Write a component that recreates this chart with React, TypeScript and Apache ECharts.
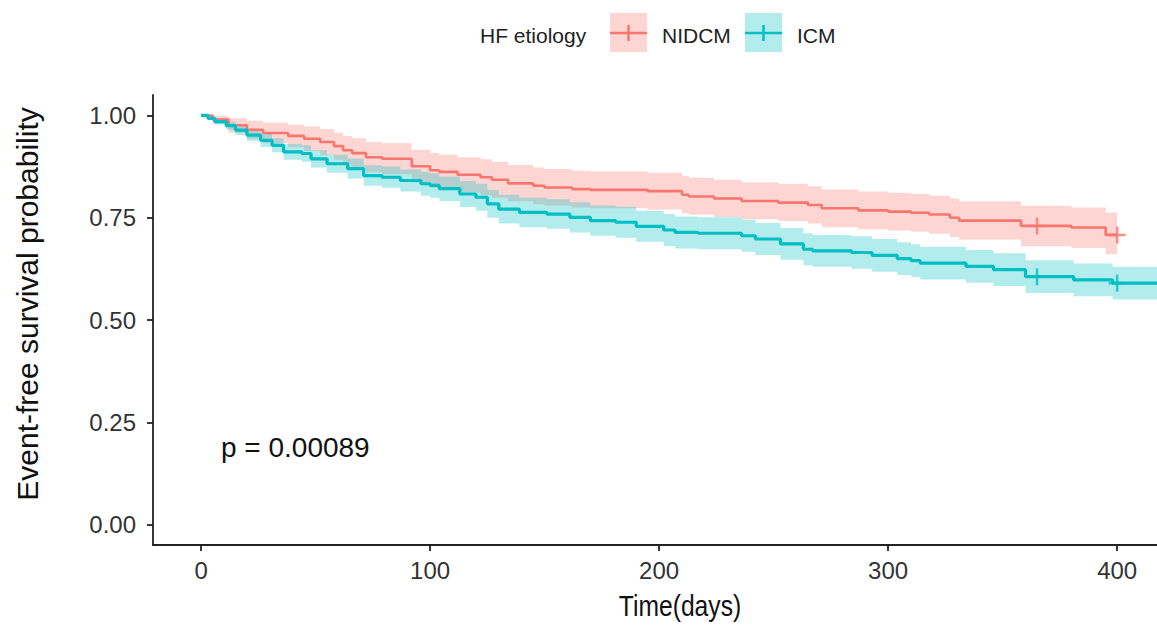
import React, { useEffect, useRef } from "react";
import * as echarts from "echarts";

const RED = "#F8766D";
const TEAL = "#00BFC4";
const RED_BAND = "rgba(248,118,109,0.3)";
const TEAL_BAND = "rgba(0,191,196,0.3)";
const FONT = "'Liberation Sans', Arial, Helvetica, sans-serif";

const xTicks = [0, 100, 200, 300, 400];
const yTicks = [0, 0.25, 0.5, 0.75, 1];

// NIDCM (red)
const nidcmTime = [0, 5, 12, 20, 27, 38, 45, 52, 58, 62, 66, 72, 79, 92, 100, 104, 112, 122, 127, 134, 145, 150, 162, 170, 195, 210, 213, 224, 236, 252, 265, 271, 287, 300, 310, 318, 327, 331, 358, 380, 395, 400];
const nidcmSurv = [1.0, 0.99, 0.976, 0.965, 0.957, 0.95, 0.943, 0.935, 0.925, 0.915, 0.908, 0.898, 0.894, 0.876, 0.866, 0.862, 0.855, 0.849, 0.843, 0.834, 0.828, 0.824, 0.82, 0.818, 0.815, 0.806, 0.802, 0.797, 0.791, 0.787, 0.781, 0.773, 0.768, 0.765, 0.762, 0.758, 0.75, 0.743, 0.73, 0.726, 0.708, 0.708];
const nidcmUpper = [1.0, 0.999, 0.993, 0.987, 0.982, 0.978, 0.973, 0.967, 0.958, 0.95, 0.944, 0.935, 0.932, 0.916, 0.908, 0.904, 0.898, 0.893, 0.887, 0.879, 0.873, 0.869, 0.865, 0.863, 0.86, 0.852, 0.848, 0.843, 0.837, 0.833, 0.827, 0.819, 0.814, 0.811, 0.808, 0.804, 0.797, 0.79, 0.779, 0.775, 0.763, 0.763];
const nidcmLower = [1.0, 0.98, 0.958, 0.943, 0.932, 0.922, 0.913, 0.903, 0.892, 0.88, 0.872, 0.861, 0.856, 0.836, 0.824, 0.82, 0.812, 0.805, 0.799, 0.79, 0.783, 0.779, 0.775, 0.773, 0.77, 0.761, 0.757, 0.752, 0.746, 0.742, 0.736, 0.727, 0.722, 0.719, 0.716, 0.711, 0.703, 0.696, 0.68, 0.676, 0.661, 0.661];
const nidcmCensorTime = [365, 400];
const nidcmCensorSurv = [0.73, 0.708];

// ICM (teal)
const icmTime = [0, 3, 6, 11, 15, 20, 26, 31, 36, 44, 48, 55, 64, 71, 79, 87, 96, 100, 104, 113, 120, 125, 130, 139, 151, 161, 170, 181, 190, 202, 207, 217, 236, 242, 253, 263, 267, 284, 293, 304, 310, 314, 334, 346, 360, 381, 398, 430];
const icmSurv = [1.0, 0.993, 0.985, 0.975, 0.964, 0.952, 0.939, 0.927, 0.911, 0.907, 0.894, 0.882, 0.87, 0.853, 0.849, 0.841, 0.833, 0.829, 0.821, 0.808, 0.8, 0.784, 0.771, 0.763, 0.759, 0.751, 0.743, 0.739, 0.729, 0.72, 0.714, 0.712, 0.706, 0.698, 0.686, 0.673, 0.669, 0.665, 0.658, 0.65, 0.645, 0.639, 0.631, 0.623, 0.606, 0.598, 0.59, 0.59];
const icmUpper = [1.0, 0.997, 0.992, 0.985, 0.976, 0.966, 0.955, 0.944, 0.93, 0.927, 0.915, 0.904, 0.894, 0.878, 0.875, 0.868, 0.862, 0.859, 0.851, 0.84, 0.833, 0.818, 0.806, 0.799, 0.795, 0.788, 0.78, 0.777, 0.767, 0.759, 0.753, 0.751, 0.745, 0.737, 0.725, 0.712, 0.708, 0.705, 0.698, 0.69, 0.685, 0.679, 0.671, 0.663, 0.646, 0.638, 0.63, 0.63];
const icmLower = [1.0, 0.988, 0.978, 0.965, 0.952, 0.938, 0.923, 0.91, 0.892, 0.887, 0.873, 0.86, 0.846, 0.828, 0.823, 0.814, 0.804, 0.799, 0.791, 0.776, 0.767, 0.75, 0.736, 0.727, 0.723, 0.714, 0.706, 0.701, 0.691, 0.681, 0.675, 0.673, 0.667, 0.659, 0.647, 0.634, 0.63, 0.625, 0.618, 0.61, 0.605, 0.599, 0.591, 0.583, 0.566, 0.558, 0.55, 0.55];
const icmCensorTime = [365, 400];
const icmCensorSurv = [0.606, 0.59];

const PLUS = "path://M0,6.8H16V9.2H0Z M6.8,0H9.2V16H6.8Z";

function bandSeries(name: string, time: number[], lower: number[], upper: number[], color: string) {
  return {
    name: name + " CI",
    type: "custom",
    silent: true,
    clip: true,
    data: [[time[0], upper[0]]],
    renderItem: (_params: any, api: any) => {
      const top: number[][] = [];
      const bottom: number[][] = [];
      for (let i = 0; i < time.length; i++) {
        const next = i + 1 < time.length ? time[i + 1] : time[i];
        top.push(api.coord([time[i], upper[i]]));
        top.push(api.coord([next, upper[i]]));
        bottom.push(api.coord([time[i], lower[i]]));
        bottom.push(api.coord([next, lower[i]]));
      }
      const points = top.concat(bottom.reverse());
      return { type: "polygon", shape: { points }, style: { fill: color } };
    },
  };
}

function legendKey(x: number, fill: string, color: string) {
  return [
    { type: "rect", shape: { x, y: 13, width: 37, height: 39 }, style: { fill } },
    { type: "line", shape: { x1: x, y1: 33, x2: x + 37, y2: 33 }, style: { stroke: color, lineWidth: 2.5 } },
    { type: "line", shape: { x1: x + 18.5, y1: 25, x2: x + 18.5, y2: 41 }, style: { stroke: color, lineWidth: 2.5 } },
  ];
}

export default function App() {
  const ref = useRef<HTMLDivElement>(null);
  useEffect(() => {
    if (!ref.current) return;
    const chart = echarts.init(ref.current, undefined, { renderer: "svg" });
    const axisLine = { show: true, onZero: false, lineStyle: { color: "#222", width: 1.8 } };
    chart.setOption({
      animation: false,
      backgroundColor: "#fff",
      grid: { left: 153, right: 0, top: 95, bottom: 80, containLabel: false },
      xAxis: {
        type: "value",
        min: -21,
        max: 417.4,
        axisLine,
        axisTick: { show: true, length: 6, customValues: xTicks, lineStyle: { color: "#222", width: 1.8 } },
        axisLabel: { customValues: xTicks, fontSize: 24, color: "#333", margin: 13, fontFamily: FONT },
        splitLine: { show: false },
      },
      yAxis: {
        type: "value",
        min: -0.05,
        max: 1.05,
        axisLine,
        axisTick: { show: true, length: 6, customValues: yTicks, lineStyle: { color: "#222", width: 1.8 } },
        axisLabel: {
          customValues: yTicks,
          fontSize: 24,
          color: "#333",
          margin: 17,
          fontFamily: FONT,
          formatter: (v: number) => v.toFixed(2),
        },
        splitLine: { show: false },
      },
      series: [
        bandSeries("NIDCM", nidcmTime, nidcmLower, nidcmUpper, RED_BAND),
        bandSeries("ICM", icmTime, icmLower, icmUpper, TEAL_BAND),
        {
          name: "NIDCM",
          type: "line",
          step: "end",
          symbol: "none",
          lineStyle: { color: RED, width: 2.6 },
          data: nidcmTime.map((t, i) => [t, nidcmSurv[i]]),
        },
        {
          name: "ICM",
          type: "line",
          step: "end",
          symbol: "none",
          lineStyle: { color: TEAL, width: 3.2 },
          data: icmTime.map((t, i) => [t, icmSurv[i]]),
        },
        {
          name: "NIDCM censor",
          type: "scatter",
          symbol: PLUS,
          symbolSize: 17,
          itemStyle: { color: RED },
          data: nidcmCensorTime.map((t, i) => [t, nidcmCensorSurv[i]]),
        },
        {
          name: "ICM censor",
          type: "scatter",
          symbol: PLUS,
          symbolSize: 17,
          itemStyle: { color: TEAL },
          data: icmCensorTime.map((t, i) => [t, icmCensorSurv[i]]),
        },
      ],
      graphic: [
        {
          type: "text",
          x: 480,
          y: 35,
          style: { text: "HF etiology", fontSize: 21, fontFamily: FONT, fill: "#222", align: "left", verticalAlign: "middle" },
        },
        ...legendKey(610, RED_BAND, RED),
        {
          type: "text",
          x: 662,
          y: 35,
          style: { text: "NIDCM", fontSize: 21, fontFamily: FONT, fill: "#222", align: "left", verticalAlign: "middle" },
        },
        ...legendKey(745, TEAL_BAND, TEAL),
        {
          type: "text",
          x: 797,
          y: 35,
          style: { text: "ICM", fontSize: 21, fontFamily: FONT, fill: "#222", align: "left", verticalAlign: "middle" },
        },
        {
          type: "text",
          x: 221,
          y: 447,
          style: { text: "p = 0.00089", fontSize: 28, fontFamily: FONT, fill: "#111", align: "left", verticalAlign: "middle" },
        },
        {
          type: "text",
          x: 680,
          y: 606,
          scaleX: 0.85,
          style: { text: "Time(days)", fontSize: 29, fontFamily: FONT, fill: "#111", align: "center", verticalAlign: "middle" },
        },
        {
          type: "text",
          x: 27,
          y: 304,
          rotation: Math.PI / 2,
          style: {
            text: "Event-free survival probability",
            fontSize: 30,
            fontFamily: FONT,
            fill: "#111",
            align: "center",
            verticalAlign: "middle",
          },
        },
      ],
    });
    return () => chart.dispose();
  }, []);
  return <div ref={ref} style={{ position: "absolute", left: 0, top: 0, width: 1157, height: 625 }} />;
}
